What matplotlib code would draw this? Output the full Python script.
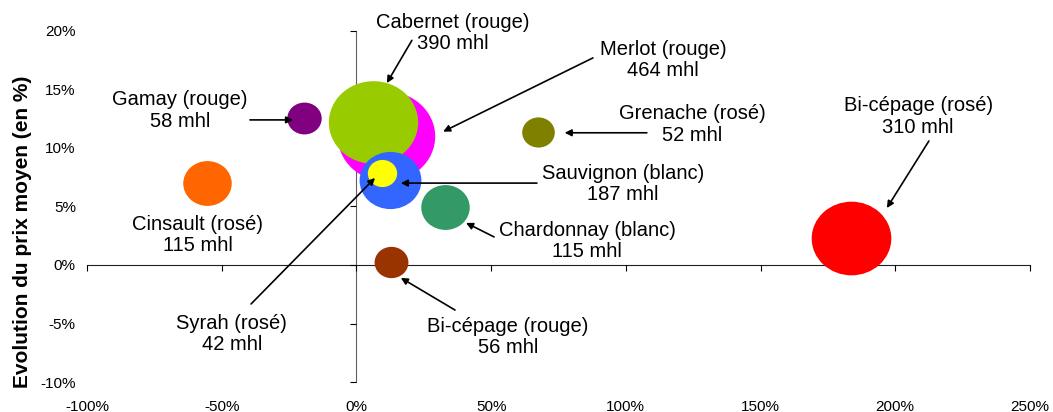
import matplotlib.pyplot as plt
from matplotlib.path import Path
from matplotlib.transforms import Affine2D

# wine types: volume (mhl), change in volume (%), change in average price (%)
names = ['Merlot (rouge)', 'Cabernet (rouge)', 'Bi-cépage (rosé)', 'Sauvignon (blanc)',
         'Cinsault (rosé)', 'Chardonnay (blanc)', 'Gamay (rouge)', 'Bi-cépage (rouge)',
         'Grenache (rosé)', 'Syrah (rosé)']
volumes = [464, 390, 310, 187, 115, 115, 58, 56, 52, 42]
x_vals = [11.1, 6.3, 183.4, 12.4, -55.3, 33.0, -19.3, 12.8, 67.5, 9.5]
y_vals = [11.0, 12.2, 2.3, 7.3, 7.0, 4.95, 12.6, 0.25, 11.35, 7.9]
colors = ['#FF00FF', '#99CC00', '#FF0000', '#3366FF', '#FF6600',
          '#339966', '#800080', '#993300', '#808000', '#FFFF00']

x_ticks = [-100, -50, 0, 50, 100, 150, 200, 250]
y_ticks = [-10, -5, 0, 5, 10, 15, 20]

# label centre, arrow tail, arrow tip (None = no arrow)
label_pos = {
    'Merlot (rouge)': ((113.8, 17.5), (87.8, 17.7), (32.2, 11.4)),
    'Cabernet (rouge)': ((35.8, 19.8), (20.6, 19.2), (11.3, 15.55)),
    'Bi-cépage (rosé)': ((208.5, 12.7), (212.5, 10.6), (196.9, 4.87)),
    'Sauvignon (blanc)': ((99.0, 6.9), (67.0, 7.0), (16.5, 7.0)),
    'Cinsault (rosé)': ((-58.8, 2.56), None, None),
    'Chardonnay (blanc)': ((85.6, 2.05), (51.1, 2.4), (40.7, 3.6)),
    'Gamay (rouge)': ((-65.5, 13.2), (-39.5, 12.4), (-23.5, 12.4)),
    'Bi-cépage (rouge)': ((56.3, -6.15), (36.6, -3.85), (16.5, -1.1)),
    'Grenache (rosé)': ((124.6, 12.0), (107.8, 11.3), (77.3, 11.3)),
    'Syrah (rosé)': ((-46.2, -5.9), (-39.1, -3.33), (6.9, 7.44)),
}

plt.rcParams['font.family'] = ['Liberation Sans', 'DejaVu Sans']

fig = plt.figure(figsize=(10.53, 4.12), dpi=100)
ax = fig.add_axes([0.0826, 0.0728, 0.8955, 0.852])

# slightly wide bubbles
bubble = Path.unit_circle().transformed(Affine2D().scale(1.0, 0.925))

for n, v, x, y, c in zip(names, volumes, x_vals, y_vals, colors):
    ax.scatter(x, y, s=v * 10.6, color=c, marker=bubble, linewidths=0, zorder=2)

for n, v in zip(names, volumes):
    text_xy, tail, tip = label_pos[n]
    ax.text(text_xy[0], text_xy[1], '%s\n%d mhl' % (n, v), ha='center', va='center',
            fontsize=14.5, linespacing=1.15, zorder=4)
    if tail is not None:
        ax.annotate('', xy=tip, xytext=tail, zorder=5,
                    arrowprops=dict(arrowstyle='-|>', color='black', lw=1.2,
                                    mutation_scale=10, shrinkA=0, shrinkB=0))

ax.set_xlim(-100, 250)
ax.set_ylim(-10, 20)
ax.set_xticks(x_ticks)
ax.set_yticks(y_ticks)
ax.set_xticklabels(['%d%%' % t for t in x_ticks])
ax.set_yticklabels(['%d%%' % t for t in y_ticks])

# axis lines cross at zero, labels stay on the outer edges
for side in ['left', 'bottom']:
    ax.spines[side].set_visible(False)
ax.spines['right'].set_position(('data', 0))
ax.spines['top'].set_position(('data', 0))
ax.spines['right'].set_color('#606060')
ax.spines['top'].set_color('#202020')
ax.spines['right'].set_zorder(1)
ax.spines['top'].set_zorder(1)
ax.tick_params(axis='x', top=True, bottom=False, labeltop=False, labelbottom=True,
               direction='in', length=4, pad=13, labelsize=11)
ax.tick_params(axis='y', right=True, left=False, labelright=False, labelleft=True,
               direction='in', length=4, pad=8, labelsize=11)

fig.text(0.021, 0.437, 'Evolution du prix moyen (en %)', rotation=90,
         ha='center', va='center', fontsize=15, fontweight='bold')

fig.savefig('out.png', dpi=100)
